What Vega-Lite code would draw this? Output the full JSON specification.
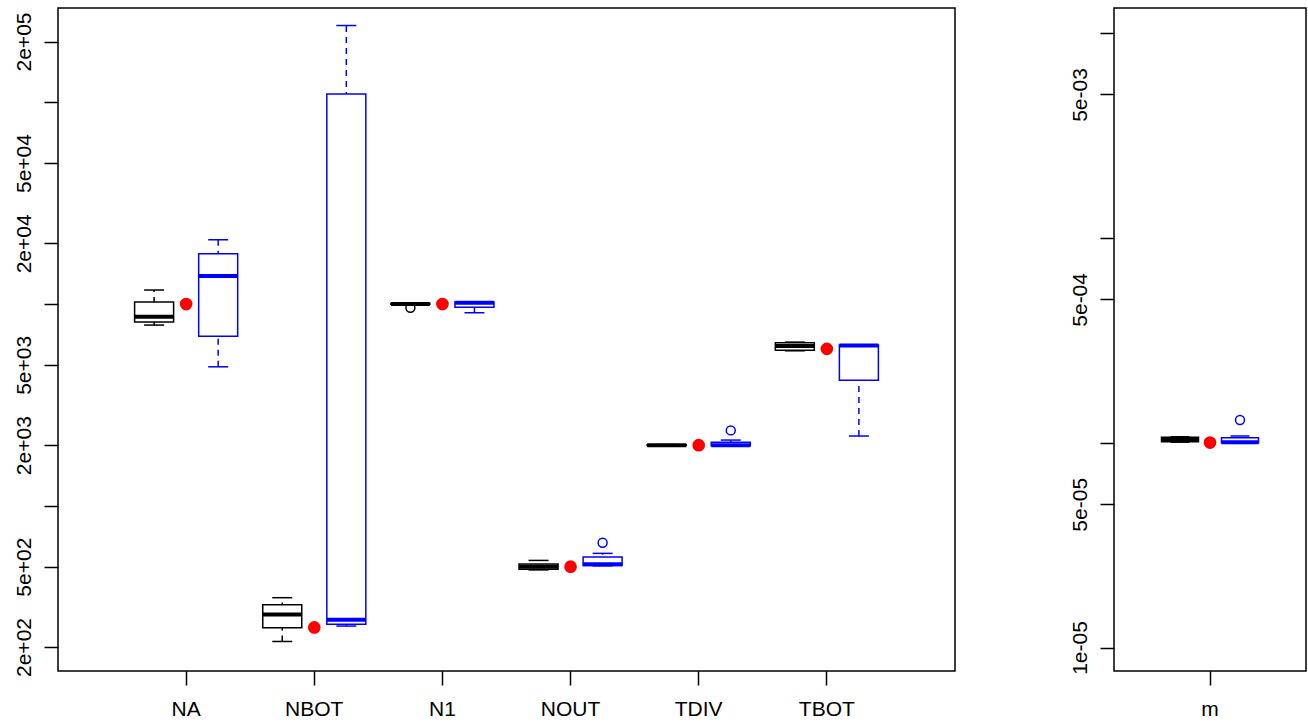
{
  "$schema": "https://vega.github.io/schema/vega-lite/v6.json",
  "padding": {"left": 12, "top": 7, "right": 2, "bottom": 2},
  "autosize": {"type": "pad"},
  "background": "white",
  "spacing": 112,
  "resolve": {"scale": {"x": "independent", "xOffset": "independent", "y": "independent", "color": "independent", "stroke": "independent"}},
  "config": {
    "font": "Liberation Sans",
    "view": {"stroke": "#000000", "strokeWidth": 1.5},
    "axis": {"domain": false, "grid": false, "tickColor": "#000000", "tickWidth": 1.5, "tickSize": 14, "labelColor": "#000000", "labelFont": "Liberation Sans", "labelFontSize": 21, "title": null, "labelOverlap": false, "labelFlush": false},
    "axisX": {"labelPadding": 13, "labelAngle": 0},
    "axisY": {"labelPadding": 10, "labelAngle": -90, "labelAlign": "center", "labelBaseline": "bottom"}
  },
  "datasets": {
    "boxes": [
      {"panel": "L", "param": "NA", "group": "est1", "lo": 7870, "q1": 8150, "med": 8650, "q3": 10230, "hi": 11740},
      {"panel": "L", "param": "NA", "group": "est2", "lo": 4890, "q1": 6920, "med": 13770, "q3": 17770, "hi": 20830},
      {"panel": "L", "param": "NBOT", "group": "est1", "lo": 213, "q1": 249, "med": 290, "q3": 324, "hi": 351},
      {"panel": "L", "param": "NBOT", "group": "est2", "lo": 254, "q1": 259, "med": 273, "q3": 109800, "hi": 240000},
      {"panel": "L", "param": "N1", "group": "est1", "lo": 9950, "q1": 9990, "med": 10020, "q3": 10060, "hi": 10110},
      {"panel": "L", "param": "N1", "group": "est2", "lo": 9060, "q1": 9650, "med": 10150, "q3": 10230, "hi": 10230},
      {"panel": "L", "param": "NOUT", "group": "est1", "lo": 482, "q1": 486, "med": 500, "q3": 515, "hi": 537},
      {"panel": "L", "param": "NOUT", "group": "est2", "lo": 505, "q1": 507, "med": 514, "q3": 558, "hi": 582},
      {"panel": "L", "param": "TDIV", "group": "est1", "lo": 1988, "q1": 1993, "med": 2000, "q3": 2007, "hi": 2012},
      {"panel": "L", "param": "TDIV", "group": "est2", "lo": 1985, "q1": 1988, "med": 1998, "q3": 2070, "hi": 2120},
      {"panel": "L", "param": "TBOT", "group": "est1", "lo": 5870, "q1": 5900, "med": 6200, "q3": 6430, "hi": 6480},
      {"panel": "L", "param": "TBOT", "group": "est2", "lo": 2220, "q1": 4190, "med": 6230, "q3": 6270, "hi": 6270},
      {"panel": "R", "param": "m", "group": "est1", "lo": 0.0001005, "q1": 0.000101, "med": 0.0001035, "q3": 0.0001062, "hi": 0.0001068},
      {"panel": "R", "param": "m", "group": "est2", "lo": 0.0000992, "q1": 0.0000998, "med": 0.0001005, "q3": 0.0001057, "hi": 0.0001077}
    ],
    "outliers": [
      {"panel": "L", "param": "N1", "group": "est1", "value": 9590},
      {"panel": "L", "param": "NOUT", "group": "est2", "value": 657},
      {"panel": "L", "param": "TDIV", "group": "est2", "value": 2367},
      {"panel": "R", "param": "m", "group": "est2", "value": 0.000129}
    ],
    "truth": [
      {"panel": "L", "param": "NA", "group": "true", "value": 10000},
      {"panel": "L", "param": "NBOT", "group": "true", "value": 250},
      {"panel": "L", "param": "N1", "group": "true", "value": 10000},
      {"panel": "L", "param": "NOUT", "group": "true", "value": 500},
      {"panel": "L", "param": "TDIV", "group": "true", "value": 2000},
      {"panel": "L", "param": "TBOT", "group": "true", "value": 6000},
      {"panel": "R", "param": "m", "group": "true", "value": 0.0001}
    ]
  },
  "hconcat": [
    {
      "width": 897,
      "height": 663,
      "encoding": {
        "x": {"field": "param", "type": "nominal", "sort": null, "scale": {"type": "band", "domain": ["NA", "NBOT", "N1", "NOUT", "TDIV", "TBOT"], "paddingInner": 0, "paddingOuter": 0.5}, "axis": {"title": null, "labelAngle": 0}},
        "xOffset": {"field": "group", "type": "nominal", "scale": {"type": "band", "domain": ["est1", "true", "est2"], "paddingInner": 0, "paddingOuter": 0.5}}
      },
      "layer": [
        {
          "data": {"name": "boxes"},
          "transform": [{"filter": "datum.panel === 'L'"}],
          "mark": {"type": "rule", "strokeDash": [6, 5], "strokeWidth": 1.5},
          "encoding": {
            "y": {"field": "lo", "type": "quantitative", "scale": {"type": "log", "domain": [152.1, 293100], "nice": false, "zero": false}, "axis": {"title": null, "values": [200, 500, 1000, 2000, 5000, 10000, 20000, 50000, 100000, 200000], "labelExpr": "datum.value == 200 ? '2e+02' : datum.value == 500 ? '5e+02' : datum.value == 2000 ? '2e+03' : datum.value == 5000 ? '5e+03' : datum.value == 20000 ? '2e+04' : datum.value == 50000 ? '5e+04' : datum.value == 200000 ? '2e+05' : ''"}},
            "y2": {"field": "hi"},
            "color": {"field": "group", "type": "nominal", "scale": {"domain": ["est1", "est2"], "range": ["#000000", "#0000ff"]}, "legend": null}
          }
        },
        {
          "data": {"name": "boxes"},
          "transform": [{"filter": "datum.panel === 'L'"}],
          "mark": {"type": "bar", "fill": "#ffffff", "strokeWidth": 1.5, "width": 39, "opacity": 1},
          "encoding": {
            "y": {"field": "q1", "type": "quantitative"},
            "y2": {"field": "q3"},
            "stroke": {"field": "group", "type": "nominal", "scale": {"domain": ["est1", "est2"], "range": ["#000000", "#0000ff"]}, "legend": null}
          }
        },
        {
          "data": {"name": "boxes"},
          "transform": [{"filter": "datum.panel === 'L'"}],
          "mark": {"type": "tick", "orient": "horizontal", "size": 39, "thickness": 4, "opacity": 1},
          "encoding": {
            "y": {"field": "med", "type": "quantitative"},
            "color": {"field": "group", "type": "nominal", "legend": null}
          }
        },
        {
          "data": {"name": "boxes"},
          "transform": [{"filter": "datum.panel === 'L'"}],
          "mark": {"type": "tick", "orient": "horizontal", "size": 20, "thickness": 1.5, "opacity": 1},
          "encoding": {
            "y": {"field": "lo", "type": "quantitative"},
            "color": {"field": "group", "type": "nominal", "legend": null}
          }
        },
        {
          "data": {"name": "boxes"},
          "transform": [{"filter": "datum.panel === 'L'"}],
          "mark": {"type": "tick", "orient": "horizontal", "size": 20, "thickness": 1.5, "opacity": 1},
          "encoding": {
            "y": {"field": "hi", "type": "quantitative"},
            "color": {"field": "group", "type": "nominal", "legend": null}
          }
        },
        {
          "data": {"name": "outliers"},
          "transform": [{"filter": "datum.panel === 'L'"}],
          "mark": {"type": "point", "shape": "circle", "filled": false, "size": 80, "strokeWidth": 1.5, "opacity": 1},
          "encoding": {
            "y": {"field": "value", "type": "quantitative"},
            "color": {"field": "group", "type": "nominal", "legend": null}
          }
        },
        {
          "data": {"name": "truth"},
          "transform": [{"filter": "datum.panel === 'L'"}],
          "mark": {"type": "circle", "size": 160, "color": "#ff0000", "opacity": 1},
          "encoding": {
            "y": {"field": "value", "type": "quantitative"}
          }
        }
      ]
    },
    {
      "width": 192,
      "height": 663,
      "encoding": {
        "x": {"field": "param", "type": "nominal", "sort": null, "scale": {"type": "band", "domain": ["m"], "paddingInner": 0, "paddingOuter": 0}, "axis": {"title": null, "labelAngle": 0}},
        "xOffset": {"field": "group", "type": "nominal", "scale": {"type": "band", "domain": ["est1", "true", "est2"], "range": [51, 141], "paddingInner": 0, "paddingOuter": 0}}
      },
      "layer": [
        {
          "data": {"name": "boxes"},
          "transform": [{"filter": "datum.panel === 'R'"}],
          "mark": {"type": "rule", "strokeDash": [6, 5], "strokeWidth": 1.5},
          "encoding": {
            "y": {"field": "lo", "type": "quantitative", "scale": {"type": "log", "domain": [0.00000768, 0.01321], "nice": false, "zero": false}, "axis": {"title": null, "values": [0.00001, 0.00005, 0.0001, 0.0005, 0.001, 0.005, 0.01], "labelExpr": "abs(datum.value - 0.00001) < 1e-12 ? '1e-05' : abs(datum.value - 0.00005) < 1e-12 ? '5e-05' : abs(datum.value - 0.0005) < 1e-11 ? '5e-04' : abs(datum.value - 0.005) < 1e-10 ? '5e-03' : ''"}},
            "y2": {"field": "hi"},
            "color": {"field": "group", "type": "nominal", "scale": {"domain": ["est1", "est2"], "range": ["#000000", "#0000ff"]}, "legend": null}
          }
        },
        {
          "data": {"name": "boxes"},
          "transform": [{"filter": "datum.panel === 'R'"}],
          "mark": {"type": "bar", "fill": "#ffffff", "strokeWidth": 1.5, "width": 37, "opacity": 1},
          "encoding": {
            "y": {"field": "q1", "type": "quantitative"},
            "y2": {"field": "q3"},
            "stroke": {"field": "group", "type": "nominal", "scale": {"domain": ["est1", "est2"], "range": ["#000000", "#0000ff"]}, "legend": null}
          }
        },
        {
          "data": {"name": "boxes"},
          "transform": [{"filter": "datum.panel === 'R'"}],
          "mark": {"type": "tick", "orient": "horizontal", "size": 37, "thickness": 4, "opacity": 1},
          "encoding": {
            "y": {"field": "med", "type": "quantitative"},
            "color": {"field": "group", "type": "nominal", "legend": null}
          }
        },
        {
          "data": {"name": "boxes"},
          "transform": [{"filter": "datum.panel === 'R'"}],
          "mark": {"type": "tick", "orient": "horizontal", "size": 19, "thickness": 1.5, "opacity": 1},
          "encoding": {
            "y": {"field": "lo", "type": "quantitative"},
            "color": {"field": "group", "type": "nominal", "legend": null}
          }
        },
        {
          "data": {"name": "boxes"},
          "transform": [{"filter": "datum.panel === 'R'"}],
          "mark": {"type": "tick", "orient": "horizontal", "size": 19, "thickness": 1.5, "opacity": 1},
          "encoding": {
            "y": {"field": "hi", "type": "quantitative"},
            "color": {"field": "group", "type": "nominal", "legend": null}
          }
        },
        {
          "data": {"name": "outliers"},
          "transform": [{"filter": "datum.panel === 'R'"}],
          "mark": {"type": "point", "shape": "circle", "filled": false, "size": 80, "strokeWidth": 1.5, "opacity": 1},
          "encoding": {
            "y": {"field": "value", "type": "quantitative"},
            "color": {"field": "group", "type": "nominal", "legend": null}
          }
        },
        {
          "data": {"name": "truth"},
          "transform": [{"filter": "datum.panel === 'R'"}],
          "mark": {"type": "circle", "size": 160, "color": "#ff0000", "opacity": 1},
          "encoding": {
            "y": {"field": "value", "type": "quantitative"}
          }
        }
      ]
    }
  ]
}
